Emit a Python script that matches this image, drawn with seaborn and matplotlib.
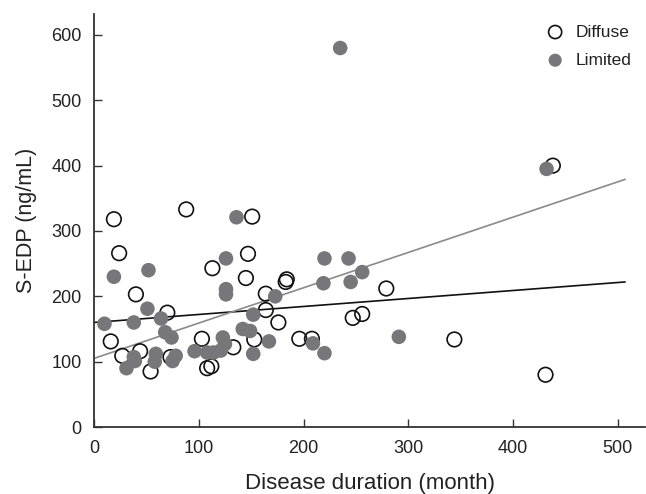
import matplotlib
matplotlib.use("Agg")
import matplotlib.pyplot as plt
import seaborn as sns
import pandas as pd
from matplotlib import font_manager

# ---------------- data ----------------
diffuse_x = [19, 88, 24, 113, 40, 151, 147, 145, 183, 184, 164, 164, 176, 247, 256, 279,
             196, 208, 153, 133, 103, 70, 16, 27, 44, 54, 73, 108, 112, 344, 431, 438]
diffuse_y = [318, 333, 266, 243, 203, 322, 265, 228, 222, 226, 204, 179, 160, 167, 173, 212,
             135, 135, 134, 122, 135, 175, 131, 109, 116, 85, 107, 90, 93, 134, 80, 400]

limited_x = [10, 19, 52, 38, 51, 64, 68, 74, 38, 39, 31, 59, 58, 78, 75, 96, 108, 114, 121,
             123, 125, 126, 126, 126, 136, 142, 149, 152, 152, 167, 173, 209, 220, 220, 243,
             219, 245, 256, 291, 235, 432]
limited_y = [158, 230, 240, 160, 181, 166, 145, 137, 107, 101, 90, 112, 100, 109, 101, 116,
             114, 114, 117, 137, 127, 211, 203, 258, 321, 150, 147, 172, 112, 131, 200, 128,
             113, 258, 258, 220, 222, 237, 138, 580, 395]

fit_x = [0, 507]
diffuse_fit = [160, 222]
limited_fit = [105, 379]

x_ticks = [0, 100, 200, 300, 400, 500]
y_ticks = [0, 100, 200, 300, 400, 500, 600]

# ---------------- style ----------------
sns.set_theme(style="ticks")
names = {f.name for f in font_manager.fontManager.ttflist}
fam = "Liberation Sans Narrow" if "Liberation Sans Narrow" in names else "Liberation Sans"
plt.rcParams["font.family"] = [fam, "DejaVu Sans"]

fig = plt.figure(figsize=(6.46, 4.94), dpi=100)
ax = fig.add_axes([0.1455, 0.1356, 0.853, 0.836])

fits = pd.DataFrame({"x": fit_x, "d": diffuse_fit, "l": limited_fit})
sns.lineplot(data=fits, x="x", y="d", color="#111111", linewidth=1.2, ax=ax, zorder=1)
sns.lineplot(data=fits, x="x", y="l", color="#8a8a8a", linewidth=1.2, ax=ax, zorder=1)

sns.scatterplot(x=diffuse_x, y=diffuse_y, s=110, facecolor="none", edgecolor="#111111",
                linewidth=1.2, label="Diffuse", ax=ax, zorder=2)
sns.scatterplot(x=limited_x, y=limited_y, s=110, color="#77777b", edgecolor="none",
                linewidth=0, label="Limited", ax=ax, zorder=3)

ax.set_xlim(0, 526)
ax.set_ylim(0, 632)
ax.set_xticks(x_ticks)
ax.set_yticks(y_ticks)
ax.tick_params(direction="in", length=6, width=1.0, color="#333333",
               labelsize=13, labelcolor="#222222", pad=9)
for s in ["top", "right"]:
    ax.spines[s].set_visible(False)
for s in ["left", "bottom"]:
    ax.spines[s].set_linewidth(1.3)
    ax.spines[s].set_color("#333333")

ax.set_xlabel("Disease duration (month)", fontsize=16, color="#222222", labelpad=12)
ax.set_ylabel("S-EDP (ng/mL)", fontsize=15.5, color="#222222", labelpad=10)

leg = ax.legend(loc="upper right", frameon=False, fontsize=12.5, labelspacing=0.75,
                handletextpad=0.2, borderaxespad=0.2, markerscale=0.9,
                bbox_to_anchor=(0.995, 1.0))
for t in leg.get_texts():
    t.set_color("#222222")

fig.savefig("out.png", dpi=100)
